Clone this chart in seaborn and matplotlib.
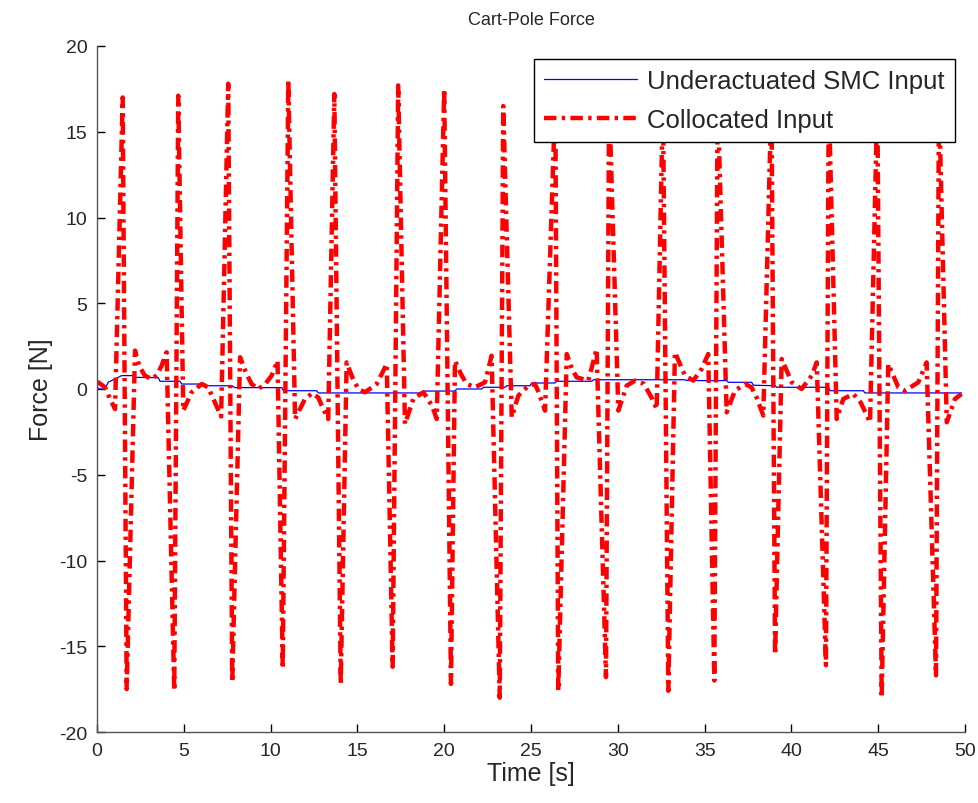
import matplotlib
matplotlib.use("Agg")
import matplotlib.pyplot as plt
import seaborn as sns
import pandas as pd

# ---------------- data ----------------
title = "Cart-Pole Force"
x_label = "Time [s]"
y_label = "Force [N]"
series_names = ["Underactuated SMC Input", "Collocated Input"]

x_ticks = [0, 5, 10, 15, 20, 25, 30, 35, 40, 45, 50]
y_ticks = [-20, -15, -10, -5, 0, 5, 10, 15, 20]

# Underactuated SMC input (blue, thin, step-like)
smc_t = [0.0, 0.08, 0.46, 0.65, 1.23, 1.42, 2.09, 2.19, 3.53, 3.63, 4.78, 4.88,
         6.22, 6.32, 7.76, 7.95, 10.64, 10.74, 12.66, 12.75, 18.7, 18.8, 20.62,
         20.72, 22.16, 22.26, 23.5, 23.6, 24.94, 25.04, 26.38, 26.48, 28.5, 28.6,
         33.87, 33.97, 36.27, 36.37, 37.71, 37.81, 39.06, 39.16, 42.13, 42.23,
         44.14, 44.24, 49.8]
smc_f = [0.19, 0.0, 0.0, 0.4, 0.68, 0.78, 0.78, 0.68, 0.66, 0.45, 0.45, 0.29,
         0.29, 0.19, 0.19, 0.08, 0.08, -0.1, -0.1, -0.23, -0.23, -0.12, -0.12,
         0.0, 0.0, 0.1, 0.1, 0.19, 0.19, 0.35, 0.35, 0.45, 0.45, 0.54,
         0.54, 0.49, 0.49, 0.39, 0.39, 0.22, 0.19, 0.1, 0.1, -0.1,
         -0.1, -0.23, -0.23]

# Collocated input (red, thick dash-dot)
col_t = [0.0, 0.07, 0.46, 0.75, 1.04, 1.48, 1.71, 2.19, 2.45, 2.76, 3.15, 3.45,
         3.72, 4.01, 4.45, 4.68, 4.97, 5.45, 6.03, 6.4, 6.8, 7.15, 7.56, 7.79,
         8.24, 8.6, 8.91, 9.29, 9.7, 10.06, 10.4, 10.70, 11.02, 11.41, 11.98,
         12.4, 12.75, 13.0, 13.32, 13.67, 14.04, 14.38, 14.7, 15.05, 15.44,
         16.11, 16.69, 17.03, 17.35, 17.74, 18.22, 18.8, 19.3, 19.57, 20.0,
         20.39, 20.62, 21.0, 21.3, 21.77, 22.35, 22.73, 23.2, 23.4, 23.89,
         24.27, 24.85, 25.23, 25.4, 25.81, 26.4, 26.57, 27.06, 27.35, 27.63,
         28.3, 28.78, 29.32, 29.5, 30.03, 30.51, 30.99, 31.5, 32.0, 32.24,
         32.6, 32.91, 33.29, 33.87, 34.35, 34.83, 35.21, 35.56, 35.75, 36.27,
         36.75, 37.33, 37.7, 38.0, 38.38, 38.85, 39.06, 39.44, 40.02, 40.59,
         41.17, 41.46, 41.99, 42.15, 42.61, 42.99, 43.57, 44.0, 44.53, 44.95,
         45.2, 45.58, 46.16, 46.54, 47.31, 47.79, 48.33, 48.5, 48.95, 49.42,
         49.8]
col_f = [0.35, 0.39, 0.1, -0.58, -1.17, 17.0, -17.5, 2.24, 1.3, 0.78, 0.58, 0.8,
         1.36, 2.14, -17.6, 17.1, -1.26, -0.19, 0.29, 0.1, -0.8, -1.6, 17.8, -17.1,
         1.85, 0.9, 0.29, 0.0, 0.3, 0.78, 1.65, -16.3, 18.0, -1.75, -0.58,
         -0.25, -0.5, -1.1, -1.75, 17.2, -17.2, 1.55, 0.7, 0.0, -0.19,
         0.29, 1.46, -16.2, 17.7, -2.04, -0.58, -0.19, -0.97, -1.75, 17.5,
         -17.2, 1.65, 0.8, 0.29, 0.1, 0.39, 1.94, -18.0, 16.5, -1.65,
         -0.39, 0.19, 0.29, -0.1, -1.26, 17.0, -17.6, 2.04, 1.2, 0.68,
         0.49, 2.33, -16.8, 17.0, -1.26, 0.19, 0.49, 0.3, -0.6, -1.17,
         17.0, -17.6, 2.14, 0.78, 0.49, 1.17, 2.04, -17.0, 17.0, -1.36,
         -0.1, 0.29, 0.1, -0.5, -1.55, 17.0, -15.5, 1.75, 0.39, 0.0,
         0.78, 1.55, -16.1, 17.0, -1.75, -0.58, -0.29, -0.8, -1.94, 17.0,
         -18.0, 1.46, 0.1, -0.1, 0.39, 1.55, -16.7, 17.0, -1.94, -0.58,
         -0.29]

# ---------------- figure ----------------
sns.set_style("white")
plt.rcParams["font.family"] = ["Liberation Sans", "DejaVu Sans"]

fig = plt.figure(figsize=(9.79, 8.04), dpi=100)
ax = fig.add_axes([97 / 979, 1 - 733 / 804, 868 / 979, 686 / 804])

df_smc = pd.DataFrame({"t": smc_t, "f": smc_f})
df_col = pd.DataFrame({"t": col_t, "f": col_f})

dash = [2.8, 1.2, 0.75, 1.2]
sns.lineplot(data=df_smc, x="t", y="f", ax=ax, color="#0000ff", linewidth=0.9,
             estimator=None, sort=False, label=series_names[0])
sns.lineplot(data=df_col, x="t", y="f", ax=ax, color="#ff0000", linewidth=3.2,
             estimator=None, sort=False, label=series_names[1])
ax.lines[1].set_dashes(dash)
ax.lines[1].set_dash_capstyle("butt")

ax.set_xlim(0, 50)
ax.set_ylim(-20, 20)
ax.set_xticks(x_ticks)
ax.set_yticks(y_ticks)
ax.set_xticklabels([str(v) for v in x_ticks], fontsize=14)
ax.set_yticklabels([str(v) for v in y_ticks], fontsize=14)
ax.tick_params(axis="both", direction="in", length=6, width=1, color="black",
               pad=7, bottom=True, left=True, top=False, right=False)

for side in ["top", "right"]:
    ax.spines[side].set_visible(False)
for side in ["left", "bottom"]:
    ax.spines[side].set_color("#555555")
    ax.spines[side].set_linewidth(1.0)

ax.set_xlabel(x_label, fontsize=18, labelpad=2)
ax.set_ylabel(y_label, fontsize=18, labelpad=4)
ax.set_title(title, fontsize=13, pad=16)

leg = ax.legend(loc="upper right", bbox_to_anchor=(0.988, 0.981),
                borderaxespad=0, fontsize=18.5, frameon=True, fancybox=False,
                framealpha=1, edgecolor="black", handlelength=3.6,
                handletextpad=0.4, labelspacing=0.57, borderpad=0.4)
leg.get_frame().set_linewidth(1.0)
leg.legend_handles[1].set_dashes(dash)

fig.savefig("out.png", dpi=100)
